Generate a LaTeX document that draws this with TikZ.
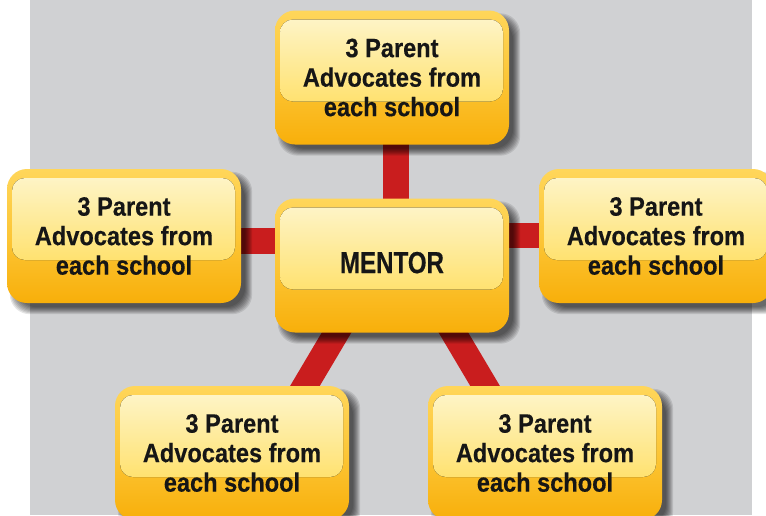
\documentclass[tikz,border=0pt]{standalone}
\usepackage{fontspec}
\setmainfont{Liberation Sans}
\newfontfamily\boxfont[FakeStretch=0.89,FakeBold=0.4]{Liberation Sans}
\newfontfamily\mentorfont[FakeStretch=0.79,FakeBold=0.4]{Liberation Sans}
\definecolor{bgGray}{HTML}{D0D1D3}
\definecolor{outTop}{HTML}{FFD65A}
\definecolor{outMid}{HTML}{FCC637}
\definecolor{outBot}{HTML}{F8AF0A}
\definecolor{hlTop}{HTML}{FEF6CF}
\definecolor{hlBot}{HTML}{FFD843}
\definecolor{barRed}{HTML}{C91D1E}
\definecolor{txt}{HTML}{161616}
\pgfdeclarelayer{bg}
\pgfdeclarelayer{bars}
\pgfdeclarelayer{shadow}
\pgfsetlayers{bg,bars,shadow,main}
\tikzset{
  pbox/.style={rectangle, rounded corners=20pt, minimum width=234pt, minimum height=134pt,
    inner sep=0pt, top color=outTop, bottom color=outBot, middle color=outMid,
    path picture={
      \fill[top color=hlTop, bottom color=hlBot, rounded corners=13pt]
        ([xshift=5pt,yshift=-9pt]path picture bounding box.north west) rectangle
        ([xshift=-6pt,yshift=-91pt]path picture bounding box.north east);
    },
    text=txt, align=center, font=\boxfont\bfseries\fontsize{26.5}{29.5}\selectfont},
  bar/.style={draw=barRed, line width=25.5pt},
  shadowpiece/.style={fill=black, opacity=0.1, rounded corners=20pt},
}
\begin{document}
\begin{tikzpicture}[x=1pt, y=-1pt]
\useasboundingbox (0,0) rectangle (766,515);
\begin{pgfonlayer}{bg}
\fill[white] (0,0) rectangle (766,515);
\fill[bgGray] (30,0) rectangle (752,515);
\end{pgfonlayer}

\node[pbox] (top) at (392,77.5) {3 Parent\\Advocates from\\each school};
\node[pbox] (c) at (392,265.5) {\mentorfont\bfseries\fontsize{30.5}{33}\selectfont\raisebox{6pt}{MENTOR}};
\node[pbox] (left) at (124,236) {3 Parent\\Advocates from\\each school};
\node[pbox] (right) at (656,236) {3 Parent\\Advocates from\\each school};
\node[pbox] (bl) at (232,453) {3 Parent\\Advocates from\\each school};
\node[pbox] (br) at (545,453) {3 Parent\\Advocates from\\each school};

\begin{pgfonlayer}{shadow}
\foreach \n in {top,c,left,right,bl,br}{
  \foreach \k in {0,...,7}{
    \pgfmathsetmacro\lo{7-(4-\k)}
    \pgfmathsetmacro\hi{7+(4-\k)}
    \fill[shadowpiece] ([xshift=\lo pt, yshift=-\lo pt]\n.north west) rectangle ([xshift=\hi pt, yshift=-\hi pt]\n.south east);
  }
}
\end{pgfonlayer}

\begin{pgfonlayer}{bars}
\draw[bar] ([xshift=4pt]top.center) -- ([xshift=4pt]c.center);
\draw[bar] (left.center |- 0,241) -- (c.center |- 0,241);
\draw[bar] (right.center |- 0,235.5) -- (c.center |- 0,235.5);
\draw[bar, shorten <=-15pt, shorten >=-15pt] ([xshift=-55.5pt]c.south) -- ([xshift=73pt]bl.north);
\draw[bar, shorten <=-15pt, shorten >=-15pt] ([xshift=61.5pt]c.south) -- ([xshift=-60pt]br.north);
\end{pgfonlayer}
\end{tikzpicture}
\end{document}
